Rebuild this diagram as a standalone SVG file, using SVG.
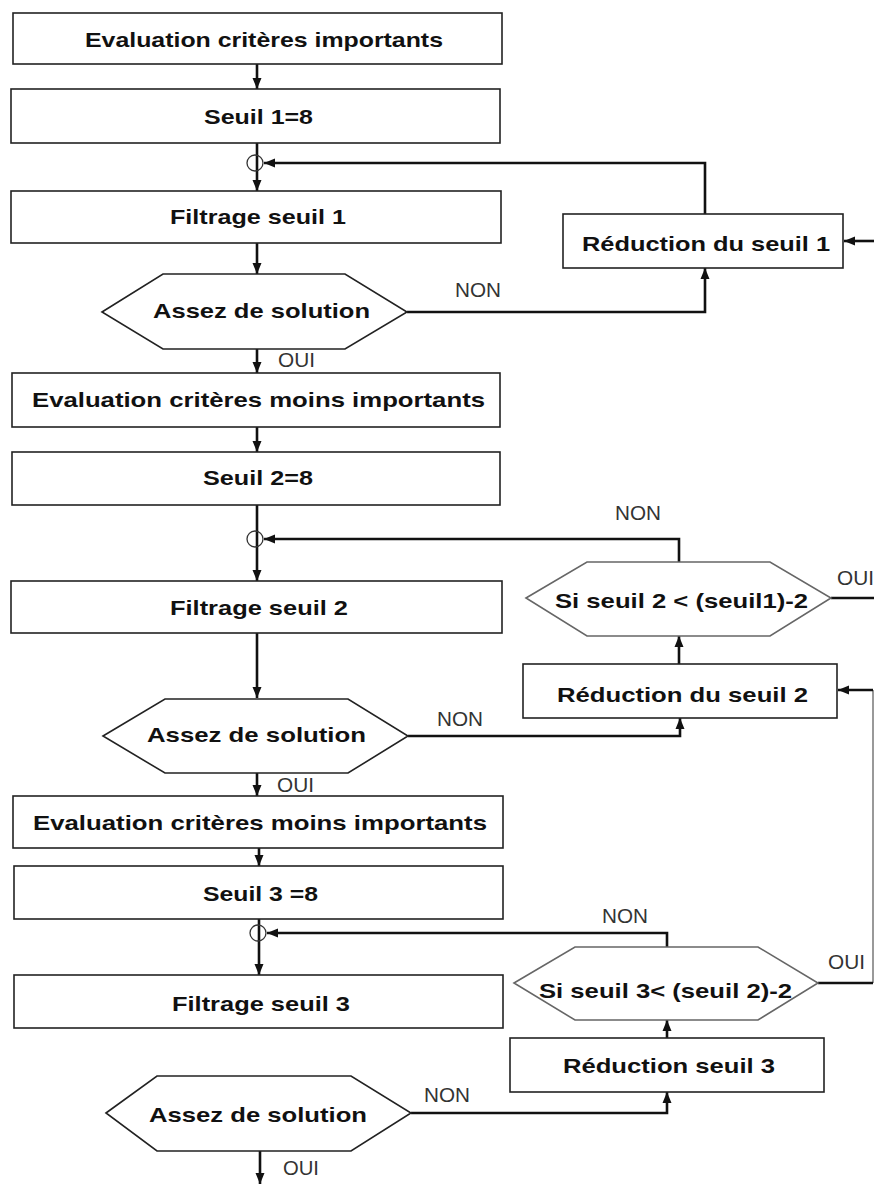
<svg xmlns="http://www.w3.org/2000/svg" width="874" height="1186" viewBox="0 0 874 1186">
<style>
.box{fill:#fff;stroke:#222;stroke-width:1.6}
.hex{fill:#fff;stroke:#222;stroke-width:1.6}
.hexg{fill:#fff;stroke:#666;stroke-width:1.6}
.t{font-family:"Liberation Sans",Arial,sans-serif;font-size:21px;font-weight:bold;fill:#111}
.lbl{font-family:"Liberation Sans",Arial,sans-serif;font-size:20px;fill:#333}
.c{fill:none;stroke:#111;stroke-width:2.6}
.a{fill:none;stroke:#111;stroke-width:2.6;marker-end:url(#ah)}
.thin{fill:none;stroke:#555;stroke-width:1.2}
.ring{fill:none;stroke:#333;stroke-width:1.3}
</style>
<defs>
<marker id="ah" markerUnits="userSpaceOnUse" markerWidth="12" markerHeight="10" refX="11" refY="5" orient="auto">
<path d="M0,0.5 L11,5 L0,9.5 z" fill="#111"/>
</marker>
</defs>
<rect width="874" height="1186" fill="#fff"/>

<g id="connectors">
<path class="a" d="M257,64 V89"/>
<path class="a" d="M257,143 V191"/>
<circle class="ring" cx="255" cy="163" r="8"/>
<path class="a" d="M705,214 V163 H264"/>
<path class="a" d="M874,241 H844"/>
<path class="a" d="M257,243 V274"/>
<path class="a" d="M407,312 H705 V268"/>
<path class="a" d="M257,349 V373"/>
<path class="a" d="M257,427 V452"/>
<path class="a" d="M257,505 V581"/>
<circle class="ring" cx="255" cy="539" r="8"/>
<path class="a" d="M679,562 V539 H264"/>
<path class="c" d="M831,598 H874"/>
<path class="a" d="M679,664 V636"/>
<path class="thin" d="M873,983 V690"/>
<path class="a" d="M873,690 H838"/>
<path class="a" d="M257,633 V698"/>
<path class="a" d="M408,736 H680 V718"/>
<path class="a" d="M257,773 V796"/>
<path class="a" d="M259,848 V866"/>
<path class="a" d="M259,919 V975"/>
<circle class="ring" cx="258" cy="933" r="8"/>
<path class="a" d="M667,947 V933 H267"/>
<path class="c" d="M818,983 H873"/>
<path class="a" d="M667,1038 V1020"/>
<path class="a" d="M411,1113 H667 V1092"/>
<path class="a" d="M260,1151 V1184"/>
</g>

<g id="labels">
<text class="lbl" x="455" y="297" textLength="46" lengthAdjust="spacingAndGlyphs">NON</text>
<text class="lbl" x="278" y="367" textLength="37" lengthAdjust="spacingAndGlyphs">OUI</text>
<text class="lbl" x="615" y="520" textLength="46" lengthAdjust="spacingAndGlyphs">NON</text>
<text class="lbl" x="837" y="585" textLength="37" lengthAdjust="spacingAndGlyphs">OUI</text>
<text class="lbl" x="437" y="726" textLength="46" lengthAdjust="spacingAndGlyphs">NON</text>
<text class="lbl" x="277" y="792" textLength="37" lengthAdjust="spacingAndGlyphs">OUI</text>
<text class="lbl" x="602" y="923" textLength="46" lengthAdjust="spacingAndGlyphs">NON</text>
<text class="lbl" x="828" y="969" textLength="37" lengthAdjust="spacingAndGlyphs">OUI</text>
<text class="lbl" x="424" y="1102" textLength="46" lengthAdjust="spacingAndGlyphs">NON</text>
<text class="lbl" x="283" y="1175" textLength="36" lengthAdjust="spacingAndGlyphs">OUI</text>
</g>

<g id="n1"><rect class="box" x="13" y="13" width="489" height="51"/>
<text class="t" x="85" y="47" textLength="358" lengthAdjust="spacingAndGlyphs">Evaluation critères importants</text></g>
<g id="n2"><rect class="box" x="11" y="89" width="489" height="54"/>
<text class="t" x="204" y="124" textLength="109" lengthAdjust="spacingAndGlyphs">Seuil 1=8</text></g>
<g id="n3"><rect class="box" x="11" y="191" width="490" height="52"/>
<text class="t" x="170" y="224" textLength="176" lengthAdjust="spacingAndGlyphs">Filtrage seuil 1</text></g>
<g id="n4"><rect class="box" x="563" y="214" width="280" height="54"/>
<text class="t" x="582" y="251" textLength="248" lengthAdjust="spacingAndGlyphs">Réduction du seuil 1</text></g>
<g id="n5"><polygon class="hex" points="102,312 163,274 345,274 407,312 345,349 163,349"/>
<text class="t" x="153" y="318" textLength="217" lengthAdjust="spacingAndGlyphs">Assez de solution</text></g>
<g id="n6"><rect class="box" x="12" y="373" width="488" height="54"/>
<text class="t" x="32" y="407" textLength="453" lengthAdjust="spacingAndGlyphs">Evaluation critères moins importants</text></g>
<g id="n7"><rect class="box" x="12" y="452" width="488" height="53"/>
<text class="t" x="203" y="485" textLength="110" lengthAdjust="spacingAndGlyphs">Seuil 2=8</text></g>
<g id="n8"><rect class="box" x="11" y="581" width="491" height="52"/>
<text class="t" x="170" y="615" textLength="178" lengthAdjust="spacingAndGlyphs">Filtrage seuil 2</text></g>
<g id="n9"><polygon class="hex" points="103,736 165,699 348,699 408,736 348,773 165,773"/>
<text class="t" x="147" y="742" textLength="219" lengthAdjust="spacingAndGlyphs">Assez de solution</text></g>
<g id="n10"><polygon class="hexg" points="526,598 587,562 770,562 831,598 770,636 587,636"/>
<text class="t" x="555" y="608" textLength="253" lengthAdjust="spacingAndGlyphs">Si seuil 2 &lt; (seuil1)-2</text></g>
<g id="n11"><rect class="box" x="523" y="664" width="314" height="54"/>
<text class="t" x="557" y="702" textLength="251" lengthAdjust="spacingAndGlyphs">Réduction du seuil 2</text></g>
<g id="n12"><rect class="box" x="13" y="796" width="490" height="52"/>
<text class="t" x="33" y="830" textLength="454" lengthAdjust="spacingAndGlyphs">Evaluation critères moins importants</text></g>
<g id="n13"><rect class="box" x="14" y="866" width="489" height="53"/>
<text class="t" x="203" y="901" textLength="115" lengthAdjust="spacingAndGlyphs">Seuil 3 =8</text></g>
<g id="n14"><rect class="box" x="14" y="975" width="489" height="53"/>
<text class="t" x="172" y="1011" textLength="178" lengthAdjust="spacingAndGlyphs">Filtrage seuil 3</text></g>
<g id="n15"><polygon class="hexg" points="514,983 575,947 758,947 818,983 758,1020 575,1020"/>
<text class="t" x="539" y="998" textLength="253" lengthAdjust="spacingAndGlyphs">Si seuil 3&lt; (seuil 2)-2</text></g>
<g id="n16"><rect class="box" x="510" y="1038" width="314" height="54"/>
<text class="t" x="563" y="1073" textLength="212" lengthAdjust="spacingAndGlyphs">Réduction seuil 3</text></g>
<g id="n17"><polygon class="hex" points="106,1113 157,1076 351,1076 411,1113 351,1151 157,1151"/>
<text class="t" x="149" y="1122" textLength="218" lengthAdjust="spacingAndGlyphs">Assez de solution</text></g>
</svg>
